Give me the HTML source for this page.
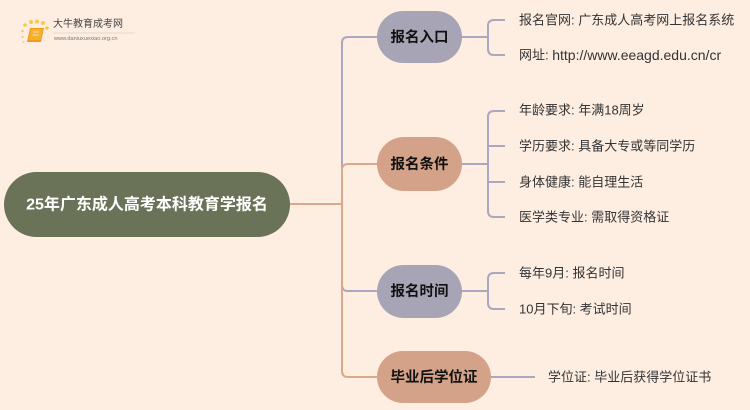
<!DOCTYPE html>
<html>
<head>
<meta charset="utf-8">
<style>
  html,body{margin:0;padding:0;background:#feeee2;}
  svg{display:block;}
  text{font-family:"Liberation Sans","Noto Sans CJK SC",sans-serif;}
</style>
</head>
<body>
<svg width="750" height="410" viewBox="0 0 750 410" xmlns="http://www.w3.org/2000/svg">
  <rect x="0" y="0" width="750" height="410" fill="#feeee2"/>

  <!-- logo -->
  <g>
    <circle cx="25" cy="25" r="1.8" fill="#f7c84a"/>
    <circle cx="31" cy="22" r="2" fill="#f7c84a"/>
    <circle cx="37" cy="21.5" r="2" fill="#f7c84a"/>
    <circle cx="43" cy="23" r="2" fill="#f7c84a"/>
    <circle cx="47" cy="28" r="1.8" fill="#f7c84a"/>
    <circle cx="22.5" cy="31" r="1.4" fill="#f7d070"/>
    <circle cx="22.5" cy="37" r="1.2" fill="#f7d070"/>
    <circle cx="23.5" cy="42" r="1" fill="#f7d070"/>
    <path d="M30 28 L44 28 L41 42 L27 42 Z" fill="#f29a1c"/>
    <path d="M31 29 L43 29 L40.5 40 L28.5 40 Z" fill="#f6b030"/>
    <path d="M33 32 L39 32 M32.5 35 L38.5 35" stroke="#fde2a0" stroke-width="1"/>
    <text x="53" y="27" font-size="10" fill="#444">大牛教育成考网</text>
    <line x1="53" y1="33" x2="135" y2="33" stroke="#d8d0c8" stroke-width="0.8"/>
    <text x="54" y="40" font-size="5.6" fill="#777">www.daniuxuexiao.org.cn</text>
  </g>

  <!-- trunk connectors -->
  <g fill="none" stroke-width="2">
    <path d="M290 204 H342 V43 Q342 37 348 37 H378" stroke="#a9a8c0"/>
    <path d="M290 204 H342 V285 Q342 291 348 291 H378" stroke="#a9a8c0"/>
    <path d="M290 204 H342 V170 Q342 164 348 164 H378" stroke="#dba88c"/>
    <path d="M290 204 H342 V371 Q342 377 348 377 H378" stroke="#dba88c"/>
  </g>

  <!-- child connectors -->
  <g fill="none" stroke="#a9a8c0" stroke-width="2">
    <path d="M462 37 H488"/>
    <path d="M505 20 H494 Q488 20 488 26 V49 Q488 55 494 55 H505"/>
    <path d="M462 164 H488"/>
    <path d="M505 111 H494 Q488 111 488 117 V211 Q488 217 494 217 H505"/>
    <path d="M488 146 H505 M488 182 H505"/>
    <path d="M462 291 H488"/>
    <path d="M505 273 H494 Q488 273 488 279 V303 Q488 309 494 309 H505"/>
    <path d="M491 377 H535"/>
  </g>

  <!-- root -->
  <rect x="4" y="172" width="286" height="65" rx="32.5" fill="#6a7257"/>
  <text x="147" y="205" font-size="16" font-weight="bold" fill="#ffffff" text-anchor="middle" dominant-baseline="central">25年广东成人高考本科教育学报名</text>

  <!-- level-1 nodes -->
  <rect x="377" y="11" width="85" height="52" rx="26" fill="#a7a5b5"/>
  <text x="419.5" y="38" font-size="14.5" font-weight="bold" fill="#111" text-anchor="middle" dominant-baseline="central">报名入口</text>

  <rect x="377" y="137" width="85" height="54" rx="27" fill="#d3a288"/>
  <text x="419.5" y="165" font-size="14.5" font-weight="bold" fill="#111" text-anchor="middle" dominant-baseline="central">报名条件</text>

  <rect x="377" y="265" width="85" height="53" rx="26.5" fill="#a7a5b5"/>
  <text x="419.5" y="292" font-size="14.5" font-weight="bold" fill="#111" text-anchor="middle" dominant-baseline="central">报名时间</text>

  <rect x="377" y="351" width="114" height="52" rx="26" fill="#d3a288"/>
  <text x="434" y="378" font-size="14.5" font-weight="bold" fill="#111" text-anchor="middle" dominant-baseline="central">毕业后学位证</text>

  <!-- leaves -->
  <g font-size="13" fill="#333">
    <text x="519" y="20" dominant-baseline="central">报名官网: 广东成人高考网上报名系统</text>
    <text x="519" y="55" dominant-baseline="central">网址: <tspan font-size="14">http://www.eeagd.edu.cn/cr</tspan></text>
    <text x="519" y="110" dominant-baseline="central">年龄要求: 年满18周岁</text>
    <text x="519" y="146" dominant-baseline="central">学历要求: 具备大专或等同学历</text>
    <text x="519" y="182" dominant-baseline="central">身体健康: 能自理生活</text>
    <text x="519" y="217" dominant-baseline="central">医学类专业: 需取得资格证</text>
    <text x="519" y="273" dominant-baseline="central">每年9月: 报名时间</text>
    <text x="519" y="309" dominant-baseline="central">10月下旬: 考试时间</text>
    <text x="548" y="377" dominant-baseline="central">学位证: 毕业后获得学位证书</text>
  </g>
</svg>
</body>
</html>
